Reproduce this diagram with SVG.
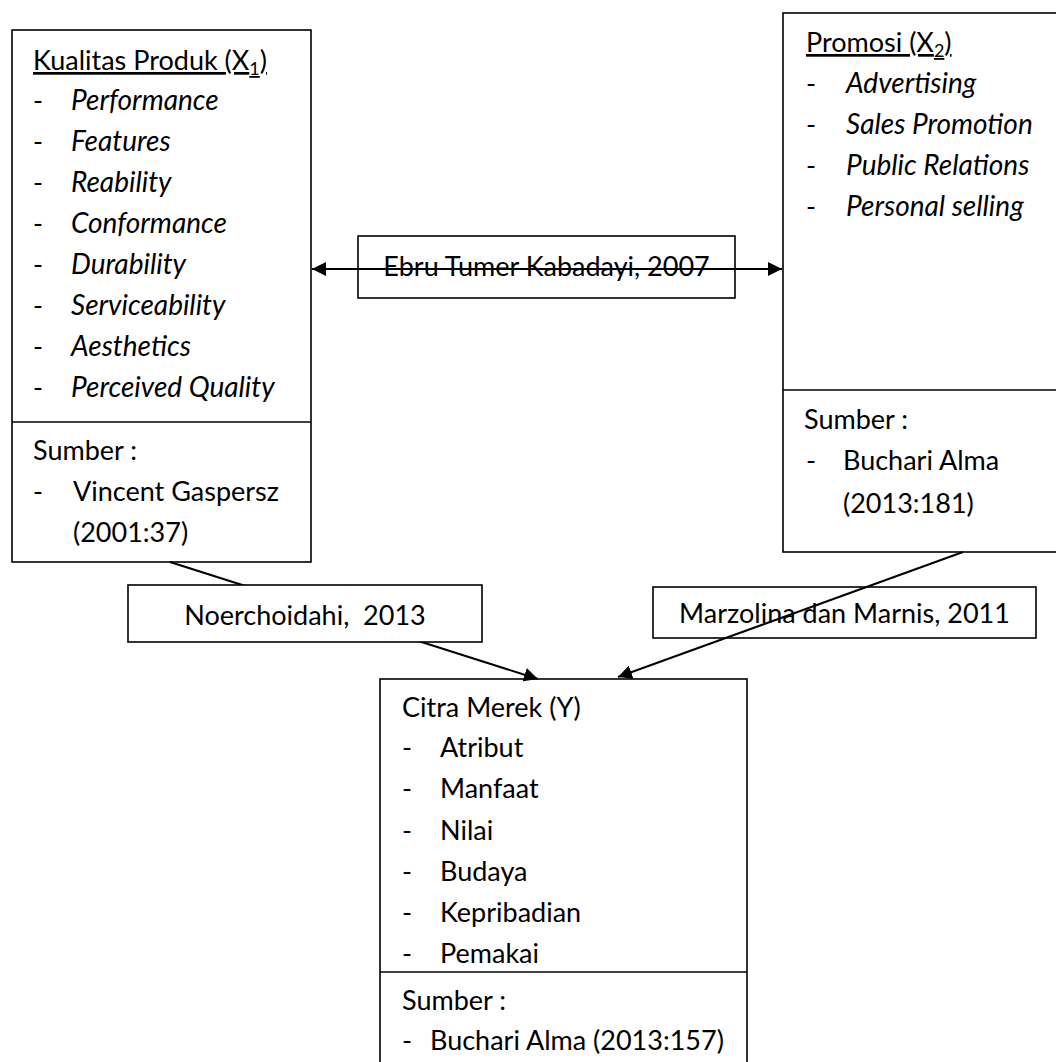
<svg xmlns="http://www.w3.org/2000/svg" width="1056" height="1062" viewBox="0 0 1056 1062">
<style>
  .box { fill: #ffffff; stroke: #000000; stroke-width: 1.6; }
  .div { stroke: #000000; stroke-width: 1.6; }
  .t { font-family: Lato, "Open Sans", "Liberation Sans", sans-serif; font-size: 27px; fill: #000000; }
  .i { font-style: italic; font-size: 28px; }
  .u { text-decoration: underline; }
  .pre { white-space: pre; }
  .conn { stroke: #000000; stroke-width: 2; fill: none; }
</style>
<defs>
  <marker id="arr" viewBox="0 0 14 14" refX="14" refY="7" markerWidth="14" markerHeight="14" markerUnits="userSpaceOnUse" orient="auto-start-reverse">
    <path d="M0,0 L14,7 L0,14 z" fill="#000000"/>
  </marker>
</defs>
<rect width="1056" height="1062" fill="#ffffff"/>

<g id="node-kualitas">
  <rect class="box" x="12" y="30" width="299" height="532"/>
  <line class="div" x1="12" y1="422" x2="311" y2="422"/>
  <text class="t u" x="33" y="70">Kualitas Produk (X<tspan font-size="18" dy="5">1</tspan><tspan dy="-5">)</tspan></text>
  <text class="t" x="33" y="110">-</text><text class="t i" x="71" y="110">Performance</text>
  <text class="t" x="33" y="151">-</text><text class="t i" x="71" y="151">Features</text>
  <text class="t" x="33" y="192">-</text><text class="t i" x="71" y="192">Reability</text>
  <text class="t" x="33" y="233">-</text><text class="t i" x="71" y="233">Conformance</text>
  <text class="t" x="33" y="274">-</text><text class="t i" x="71" y="274">Durability</text>
  <text class="t" x="33" y="315">-</text><text class="t i" x="71" y="315">Serviceability</text>
  <text class="t" x="33" y="356">-</text><text class="t i" x="71" y="356">Aesthetics</text>
  <text class="t" x="33" y="397">-</text><text class="t i" x="71" y="397">Perceived Quality</text>
  <text class="t" x="33" y="460">Sumber :</text>
  <text class="t" x="33" y="501">-</text><text class="t" x="73" y="501">Vincent Gaspersz</text>
  <text class="t" x="73" y="542">(2001:37)</text>
</g>

<g id="node-promosi">
  <rect class="box" x="783" y="13" width="290" height="539"/>
  <line class="div" x1="783" y1="390" x2="1073" y2="390"/>
  <text class="t u" x="806" y="52">Promosi (X<tspan font-size="18" dy="5">2</tspan><tspan dy="-5">)</tspan></text>
  <text class="t" x="806" y="93">-</text><text class="t i" x="846" y="93">Advertising</text>
  <text class="t" x="806" y="134">-</text><text class="t i" x="846" y="134">Sales Promotion</text>
  <text class="t" x="806" y="175">-</text><text class="t i" x="846" y="175">Public Relations</text>
  <text class="t" x="806" y="216">-</text><text class="t i" x="846" y="216">Personal selling</text>
  <text class="t" x="804" y="429">Sumber :</text>
  <text class="t" x="806" y="470">-</text><text class="t" x="843" y="470">Buchari Alma</text>
  <text class="t" x="843" y="513">(2013:181)</text>
</g>

<g id="node-citra">
  <rect class="box" x="380" y="679" width="367" height="400"/>
  <line class="div" x1="380" y1="972" x2="747" y2="972"/>
  <text class="t" x="402" y="717">Citra Merek (Y)</text>
  <text class="t" x="402" y="757">-</text><text class="t" x="440" y="757">Atribut</text>
  <text class="t" x="402" y="798">-</text><text class="t" x="440" y="798">Manfaat</text>
  <text class="t" x="402" y="840">-</text><text class="t" x="440" y="840">Nilai</text>
  <text class="t" x="402" y="881">-</text><text class="t" x="440" y="881">Budaya</text>
  <text class="t" x="402" y="922">-</text><text class="t" x="440" y="922">Kepribadian</text>
  <text class="t" x="402" y="963">-</text><text class="t" x="440" y="963">Pemakai</text>
  <text class="t" x="402" y="1010">Sumber :</text>
  <text class="t" x="402" y="1050">-</text><text class="t" x="430" y="1050">Buchari Alma (2013:157)</text>
</g>

<g id="label-ebru">
  <rect class="box" x="358" y="236" width="377" height="62"/>
  <text class="t" x="546.5" y="276" text-anchor="middle">Ebru Tumer Kabadayi, 2007</text>
</g>

<g id="label-marzolina">
  <rect class="box" x="653" y="587" width="383" height="51"/>
  <text class="t" x="844.5" y="623" text-anchor="middle">Marzolina dan Marnis, 2011</text>
</g>

<g id="connectors">
  <line class="conn" x1="312" y1="269" x2="782" y2="269" marker-start="url(#arr)" marker-end="url(#arr)"/>
  <line class="conn" x1="170" y1="562" x2="538" y2="679" marker-end="url(#arr)"/>
  <line class="conn" x1="963" y1="552" x2="618" y2="677" marker-end="url(#arr)"/>
</g>

<g id="label-noerchoidahi">
  <rect class="box" x="128" y="585" width="354" height="57"/>
  <text class="t pre" x="305" y="625" text-anchor="middle">Noerchoidahi,  2013</text>
</g>
</svg>
